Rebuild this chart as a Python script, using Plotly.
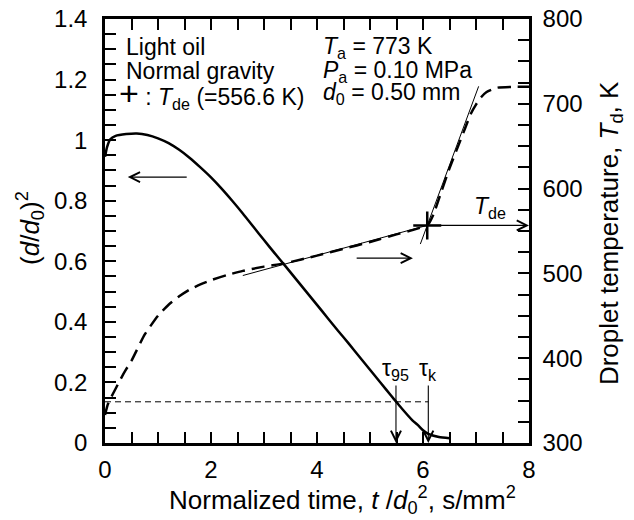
import plotly.graph_objects as go

# ---- data ----
t_d2 = [0.0, 0.04, 0.1, 0.2, 0.4, 0.6, 0.8, 1.0, 1.2, 1.4, 1.6, 1.8, 2.0, 2.2, 2.4, 2.6, 2.8,
        3.0, 3.2, 3.4, 3.6, 3.8, 4.0, 4.2, 4.4, 4.6, 4.8, 5.0, 5.2, 5.4, 5.5, 5.6, 5.8, 5.9,
        6.0, 6.1, 6.3, 6.5]
d2 = [0.945, 0.978, 1.003, 1.014, 1.02, 1.022, 1.017, 1.006, 0.99, 0.968, 0.941, 0.91, 0.877,
      0.84, 0.8, 0.758, 0.714, 0.67, 0.627, 0.585, 0.542, 0.499, 0.456, 0.413, 0.37, 0.328,
      0.285, 0.242, 0.199, 0.156, 0.135, 0.114, 0.075, 0.06, 0.042, 0.03, 0.02, 0.016]

t_T = [0.0, 0.05, 0.1, 0.2, 0.3, 0.4, 0.5, 0.75, 1.0, 1.2, 1.4, 1.6, 1.8, 2.0, 2.3, 2.6, 3.0,
       3.4, 4.0, 4.5, 5.0, 5.5, 5.8, 6.0, 6.1, 6.2, 6.3, 6.5, 6.7, 6.8, 6.9, 7.0, 7.1, 7.2,
       7.4, 7.7, 8.0]
T_d = [333, 345, 352, 364, 376, 387, 397, 428, 450, 463, 473, 481, 487, 492, 498, 503, 508,
       512, 521, 529, 537, 546, 551, 555, 558, 570, 588, 624, 656, 672, 688, 699, 708, 714,
       719, 720, 720]

# tangent lines defining T_de
tan1_t = [2.6, 6.1]
tan1_T = [497.5, 557.0]
tan2_t = [5.95, 7.05]
tan2_T = [534.6, 720.6]

T_de_t = 6.08
T_de = 556.6
tau95 = 5.49
tau_k = 6.1
d2_95 = 0.136

FONT = "Arial, Liberation Sans, sans-serif"
BLACK = "#000000"

fig = go.Figure()

fig.add_trace(go.Scatter(x=t_d2, y=d2, mode="lines",
                         line=dict(color=BLACK, width=2.5, shape="spline", smoothing=0.6),
                         yaxis="y"))
fig.add_trace(go.Scatter(x=t_T, y=T_d, mode="lines",
                         line=dict(color=BLACK, width=2.5, dash="13px,7px",
                                   shape="spline", smoothing=0.5), yaxis="y2"))
fig.add_trace(go.Scatter(x=tan1_t, y=tan1_T, mode="lines",
                         line=dict(color=BLACK, width=1), yaxis="y2"))
fig.add_trace(go.Scatter(x=tan2_t, y=tan2_T, mode="lines",
                         line=dict(color=BLACK, width=1), yaxis="y2"))
fig.add_trace(go.Scatter(x=[0, tau_k], y=[d2_95, d2_95], mode="lines",
                         line=dict(color=BLACK, width=1, dash="6px,4px"), yaxis="y"))
fig.add_trace(go.Scatter(x=[T_de_t], y=[T_de], mode="markers", yaxis="y2",
                         marker=dict(symbol="cross-thin", size=20,
                                     line=dict(color=BLACK, width=2.5))))

ann = []
def arrow(x, y, ax, ay, yref="y", text="", **kw):
    d = dict(x=x, y=y, ax=ax, ay=ay, xref="x", yref=yref, axref="x", ayref=yref,
             text=text, showarrow=True, arrowhead=5, arrowsize=1.8, arrowwidth=1.1,
             arrowcolor=BLACK, font=dict(family=FONT, size=23, color=BLACK))
    d.update(kw)
    ann.append(d)

arrow(0.43, 0.878, 1.57, 0.878)
arrow(5.81, 518, 4.72, 518, yref="y2")
arrow(8.0, T_de, T_de_t, T_de, yref="y2")
arrow(tau95, 0.0, tau95, 0.243, text="τ<sub>95</sub>")
arrow(tau_k, 0.0, tau_k, 0.243, text="τ<sub>k</sub>")
arrow(-0.075, d2_95, -1.15, 0.069, text="0.136")

def label(x, y, text, xref="x", yref="y", xanchor="left", size=23, **kw):
    d = dict(x=x, y=y, xref=xref, yref=yref, text=text, showarrow=False,
             xanchor=xanchor, yanchor="middle", font=dict(family=FONT, size=size, color=BLACK))
    d.update(kw)
    ann.append(d)

label(0.36, 1.307, "Light oil")
label(0.36, 1.228, "Normal gravity")
label(0.22, 1.153, "<span style='font-size:34px'>+</span> : <i>T</i><sub>de</sub> (=556.6 K)")
label(4.07, 1.307, "<i>T</i><sub>a</sub> = 773 K")
label(4.07, 1.228, "<i>P</i><sub>a</sub> = 0.10 MPa")
label(4.07, 1.153, "<i>d</i><sub>0</sub> = 0.50 mm")
label(7.27, 578, "<i>T</i><sub>de</sub>", yref="y2", xanchor="center")

# axis titles
label(-0.177, 0.507, "(<i>d</i>/<i>d</i><sub>0</sub>)<sup>2</sup>", xref="paper", yref="paper",
      xanchor="center", size=26, textangle=-90)
label(0.559, -0.134, "Normalized time, <i>t</i> /<i>d</i><sub>0</sub><sup>2</sup>, s/mm<sup>2</sup>",
      xref="paper", yref="paper", xanchor="center", size=26)
label(1.191, 0.495, "Droplet temperature, <i>T</i><sub>d</sub>, K", xref="paper", yref="paper",
      xanchor="center", size=26, textangle=-90)

axis_common = dict(showline=True, linewidth=2.5, linecolor=BLACK, ticks="inside",
                   ticklen=11, tickwidth=2, tickcolor=BLACK, showgrid=False, zeroline=False,
                   automargin=False, ticklabeloverflow="allow",
                   tickfont=dict(family=FONT, size=24, color=BLACK))

# the page body adds an 8px offset; margins compensate so the plot lands where the reference has it
fig.update_layout(
    width=634, height=520,
    margin=dict(l=97, r=113, t=11, b=85, autoexpand=False),
    paper_bgcolor="white", plot_bgcolor="white",
    showlegend=False,
    xaxis=dict(range=[0, 8], dtick=2, mirror="ticks", ticklabelstandoff=3,
               minor=dict(dtick=0.5, ticks="inside", ticklen=11, tickwidth=1.5, tickcolor=BLACK),
               **axis_common),
    yaxis=dict(range=[0, 1.4], dtick=0.2, ticklabelstandoff=10,
               minor=dict(dtick=0.05, ticks="inside", ticklen=11, tickwidth=1.5, tickcolor=BLACK),
               **axis_common),
    yaxis2=dict(range=[300, 800], dtick=100, overlaying="y", side="right", ticklabelstandoff=6,
                minor=dict(dtick=25, ticks="inside", ticklen=11, tickwidth=1.5, tickcolor=BLACK),
                **axis_common),
    annotations=ann,
)

fig.write_html("out.html")
